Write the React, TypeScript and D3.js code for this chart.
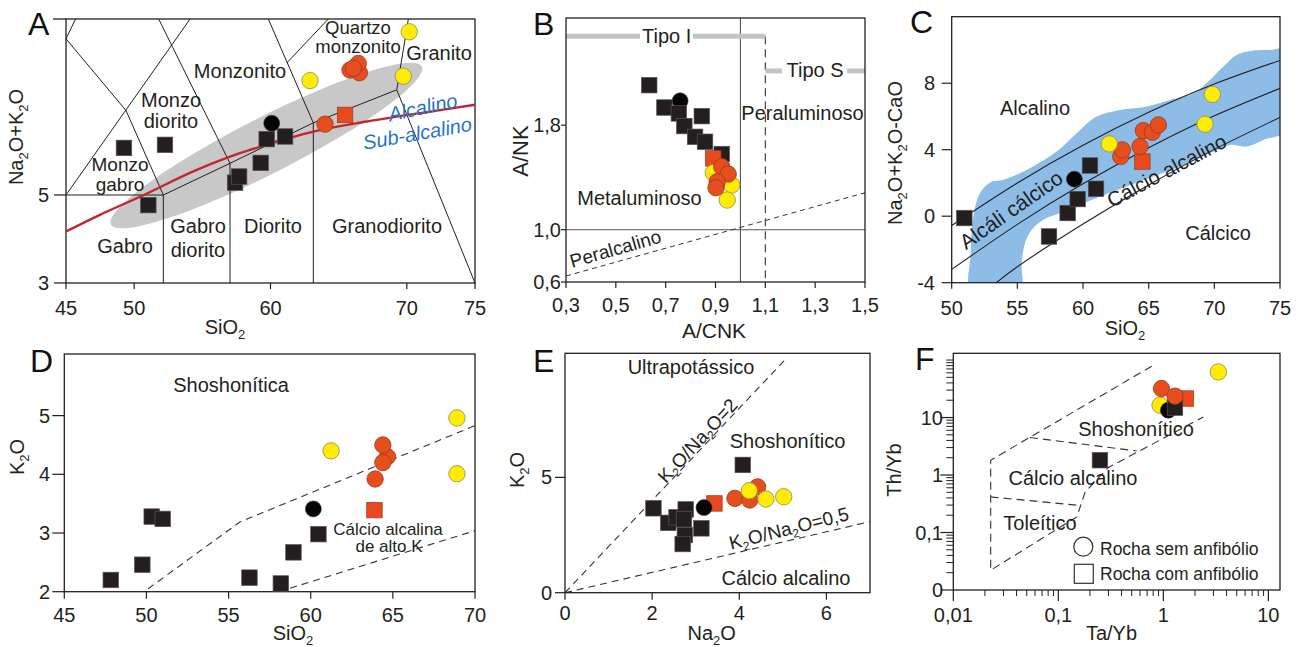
import React from 'react';
import * as d3 from 'd3';

const FONT = '"Liberation Sans", Arial, Helvetica, sans-serif';
const INK = '#231f20';

type XY = [number, number];
type Pt = [number, number, string];

// ---------------- A: TAS (Middlemost) ----------------
const tasXTicks = [45, 50, 60, 70, 75];
const tasYTicks = [3, 5];
const tasPoints: Pt[] = [
  [49.25, 6.07, 'sq'], [52.26, 6.14, 'sq'], [51.04, 4.77, 'sq'], [57.4, 5.28, 'sq'], [57.7, 5.42, 'sq'],
  [59.28, 5.73, 'sq'], [59.72, 6.27, 'sq'], [61.07, 6.33, 'sq'],
  [60.09, 6.63, 'bc'], [65.47, 6.82, 'rsq'], [64.0, 6.61, 'rc'],
  [65.83, 7.84, 'rc'], [66.52, 7.78, 'rc'], [66.44, 7.99, 'rc'], [66.08, 7.88, 'rc'],
  [62.9, 7.6, 'yc'], [69.74, 7.7, 'yc'], [70.18, 8.71, 'yc'],
];
const tasBoundaries: XY[][] = [
  [[45.7, 9], [45, 8.55]],
  [[45, 8.55], [49.4, 6.92], [52.14, 5]],
  [[45, 5], [52.14, 5]],
  [[54.1, 9], [45, 5]],
  [[51.8, 9], [57.03, 5.72]],
  [[52.14, 5], [57.03, 5.72], [63.14, 6.64], [69.26, 7.39]],
  [[59.84, 9], [63.14, 6.64]],
  [[64.24, 9], [61.19, 8.0]],
  [[70.11, 9], [69.26, 7.39], [75, 3]],
  [[52.14, 5], [52.14, 3]],
  [[57.03, 5.72], [57.03, 3]],
  [[63.14, 6.64], [63.14, 3]],
];
const tasAlkalineLine: XY[] = [
  [45, 4.17], [47.49, 4.55], [50.43, 4.96], [54.59, 5.57], [57.76, 5.95], [59.72, 6.14],
  [63.14, 6.44], [67.06, 6.67], [72.43, 6.93], [75, 7.05],
];
const tasGrayFieldTips: XY[] = [[48.3, 4.33], [71.1, 7.92]];

// ---------------- B: Shand ----------------
const shandXTicks = [0.3, 0.5, 0.7, 0.9, 1.1, 1.3, 1.5];
const shandYTicks = [0.6, 1.0, 1.8];
const shandPoints: Pt[] = [
  [0.634, 2.106, 'sq'], [0.695, 1.935, 'sq'], [0.758, 1.986, 'bc'], [0.753, 1.89, 'sq'], [0.845, 1.869, 'sq'],
  [0.775, 1.793, 'sq'], [0.818, 1.711, 'sq'], [0.858, 1.673, 'sq'], [0.925, 1.579, 'sq'],
  [0.891, 1.546, 'rsq'], [0.891, 1.436, 'yc'], [0.965, 1.342, 'yc'],
  [0.925, 1.482, 'rc'], [0.951, 1.426, 'rc'], [0.907, 1.367, 'rc'], [0.902, 1.321, 'rc'],
  [0.947, 1.227, 'yc'],
];
const shandPeralkalineLine: XY[] = [[0.3, 0.646], [1.5, 1.283]];
const shandTypeI: XY[] = [[0.3, 2.48], [1.1, 2.48]];
const shandTypeS: XY[] = [[1.1, 2.215], [1.5, 2.215]];

// ---------------- C: MALI ----------------
const maliXTicks = [50, 55, 60, 65, 70, 75];
const maliYTicks = [-4, 0, 4, 8];
const maliPoints: Pt[] = [
  [50.96, -0.11, 'sq'], [58.83, 0.19, 'sq'], [59.59, 1.03, 'sq'], [60.53, 3.05, 'sq'], [60.99, 1.65, 'sq'],
  [57.41, -1.22, 'sq'], [59.34, 2.23, 'bc'], [64.52, 3.29, 'rsq'],
  [62.87, 3.59, 'rc'], [62.99, 3.99, 'rc'], [64.34, 4.19, 'rc'], [64.59, 5.15, 'rc'], [65.28, 5.05, 'rc'], [65.74, 5.49, 'rc'],
  [62.0, 4.35, 'yc'], [69.29, 5.53, 'yc'], [69.85, 7.33, 'yc'],
];
const maliAlkalic: XY[] = [[50, -0.56], [55, 2.0], [60, 4.27], [65, 6.25], [70, 7.95], [75, 9.37]];
const maliAlkaliCalcic: XY[] = [[50, -3.2], [55, -0.49], [60, 1.95], [65, 4.12], [70, 6.04], [75, 7.69]];
const maliCalcAlkalic: XY[] = [[52.5, -4.6], [55, -3.04], [60, -0.47], [65, 1.88], [70, 4.02], [75, 5.94]];
const maliField: XY[] = [
  [51.5, -4.6], [51.45, -2.22], [51.65, -0.01], [52.16, 1.39], [52.92, 2.03], [53.93, 2.19], [55.96, 2.89],
  [57.99, 3.89], [59.52, 4.99], [61.04, 5.99], [62.82, 6.39], [64.59, 6.55], [66.62, 6.99], [68.4, 7.39],
  [69.67, 8.2], [70.69, 9.0], [71.7, 9.7], [72.97, 9.96], [74.24, 10.0], [75.6, 10.0], [75.6, 5.2],
  [73.73, 4.59], [72.46, 4.19], [71.19, 4.29], [69.67, 3.79], [67.39, 2.99], [65.36, 2.39], [63.32, 1.79],
  [61.29, 1.19], [58.25, 0.19], [56.98, -0.21], [56.09, -0.82], [55.58, -1.62], [55.33, -2.82], [55.2, -4.6],
];

// ---------------- D: K2O vs SiO2 ----------------
const k2oXTicks = [45, 50, 55, 60, 65, 70];
const k2oYTicks = [2, 3, 4, 5];
const k2oPoints: Pt[] = [
  [47.83, 2.2, 'sq'], [49.75, 2.46, 'sq'], [50.32, 3.28, 'sq'], [50.99, 3.24, 'sq'], [56.27, 2.24, 'sq'],
  [58.18, 2.14, 'sq'], [58.95, 2.67, 'sq'], [60.47, 2.98, 'sq'], [63.88, 3.39, 'rsq'], [60.16, 3.41, 'bc'],
  [64.67, 4.3, 'rc'], [64.39, 4.5, 'rc'], [64.39, 4.2, 'rc'], [63.92, 3.92, 'rc'],
  [61.24, 4.4, 'yc'], [68.9, 4.96, 'yc'], [68.9, 4.01, 'yc'],
];
const k2oShoshoniticLine: XY[] = [[50.1, 2.05], [55.7, 3.19], [70, 4.83]];
const k2oHighKLine: XY[] = [[58.75, 2.06], [70, 3.04]];

// ---------------- E: K2O vs Na2O ----------------
const naXTicks = [0, 2, 4, 6];
const naYTicks = [0, 5];
const naPoints: Pt[] = [
  [2.03, 3.66, 'sq'], [2.37, 3.03, 'sq'], [2.56, 3.27, 'sq'], [2.77, 3.61, 'sq'], [2.73, 3.18, 'sq'],
  [2.75, 2.5, 'sq'], [2.7, 2.11, 'sq'], [3.13, 2.79, 'sq'], [4.08, 5.54, 'sq'],
  [3.43, 3.87, 'rsq'], [3.19, 3.69, 'bc'],
  [3.9, 4.09, 'rc'], [4.42, 4.59, 'rc'], [4.24, 4.02, 'rc'],
  [4.23, 4.42, 'yc'], [4.61, 4.06, 'yc'], [5.02, 4.16, 'yc'],
];
const naRatio2: XY[] = [[0, 0], [5.05, 10.1]];
const naRatio05: XY[] = [[0, 0], [7, 3.08]];

// ---------------- F: Th/Yb vs Ta/Yb ----------------
const taXTicks = [0.01, 0.1, 1, 10];
const thYTicks = [0.01, 0.1, 1, 10];
const taPoints: Pt[] = [
  [1.64, 21.4, 'rsq'], [0.93, 16.4, 'yc'], [1.116, 13.4, 'bc'], [1.29, 14.9, 'sq'],
  [0.96, 31.9, 'rc'], [1.29, 23.5, 'rc'], [0.249, 1.81, 'sq'], [3.34, 62.1, 'yc'],
];
const taOuter: XY[] = [[0.775, 78], [0.0227, 1.81], [0.0227, 0.0221], [0.15, 0.187], [0.18, 0.508], [0.299, 1.35], [2.4, 10.2]];
const taThCa: XY[] = [[0.0227, 0.416], [0.161, 0.295]];
const taCaSho: XY[] = [[0.0537, 4.49], [0.558, 2.62]];

// ---------------- helpers ----------------
function Marker({ cx, cy, t }: { cx: number; cy: number; t: string }) {
  const s = 15.5;
  if (t === 'sq') return <rect x={cx - s / 2} y={cy - s / 2} width={s} height={s} fill="#231f20" stroke="#5c4f4f" strokeWidth={0.7} />;
  if (t === 'rsq') return <rect x={cx - s / 2} y={cy - s / 2} width={s} height={s} fill="#e8491e" stroke="#9a3b1c" strokeWidth={0.7} />;
  if (t === 'bc') return <circle cx={cx} cy={cy} r={8} fill="#050505" stroke="#3a3a3a" strokeWidth={0.6} />;
  if (t === 'rc') return <circle cx={cx} cy={cy} r={8.2} fill="#e64d1f" stroke="#9a3b1c" strokeWidth={0.8} />;
  return <circle cx={cx} cy={cy} r={8.2} fill="#ffec00" stroke="#8d8a5c" strokeWidth={0.8} />;
}

function chem(segs: [string, boolean][], sub = 13, shift = 5) {
  let prev = false;
  return segs.map(([s, isSub], i) => {
    let dy = 0;
    if (isSub && !prev) dy = shift;
    if (!isSub && prev) dy = -shift;
    prev = isSub;
    return (
      <tspan key={i} dy={dy} fontSize={isSub ? sub : undefined}>
        {s}
      </tspan>
    );
  });
}

function Axes(props: {
  x: any; y: any; xTicks: number[]; yTicks: number[];
  xFmt: (v: number) => string; yFmt: (v: number) => string;
  xLen: number; yLen: number; xLabelY: number; yLabelX: number;
}) {
  const { x, y, xTicks, yTicks, xFmt, yFmt, xLen, yLen, xLabelY, yLabelX } = props;
  const [x0, x1] = x.range();
  const [y0, y1] = y.range();
  return (
    <g>
      <rect x={x0} y={y1} width={x1 - x0} height={y0 - y1} fill="none" stroke={INK} strokeWidth={1.3} />
      {xTicks.map((v) => (
        <g key={'x' + v}>
          <line x1={x(v)} x2={x(v)} y1={y0} y2={y0 + xLen} stroke={INK} strokeWidth={1.2} />
          <text x={x(v)} y={xLabelY} textAnchor="middle" fontSize={20} fill={INK}>{xFmt(v)}</text>
        </g>
      ))}
      {yTicks.map((v) => (
        <g key={'y' + v}>
          <line x1={x0 - yLen} x2={x0} y1={y(v)} y2={y(v)} stroke={INK} strokeWidth={1.2} />
          <text x={yLabelX} y={y(v) + 7} textAnchor="end" fontSize={20} fill={INK}>{yFmt(v)}</text>
        </g>
      ))}
    </g>
  );
}

const comma = (v: number) => String(v).replace('.', ',');

function T(props: any) {
  const { children, ...rest } = props;
  return (
    <text fontSize={20} fill={INK} textAnchor="middle" {...rest}>
      {children}
    </text>
  );
}

function Letter({ x, y, c }: { x: number; y: number; c: string }) {
  return <text x={x} y={y} fontSize={32} fill="#111">{c}</text>;
}

// ---------------- panels ----------------
function PanelA() {
  const x = d3.scaleLinear().domain([45, 75]).range([66, 475]);
  const y = d3.scaleLinear().domain([3, 9]).range([283, 19]);
  const line = d3.line<XY>().x((d) => x(d[0])).y((d) => y(d[1]));
  const smooth = d3.line<XY>().x((d) => x(d[0])).y((d) => y(d[1])).curve(d3.curveMonotoneX);
  const [t1, t2] = tasGrayFieldTips;
  const p1 = [x(t1[0]), y(t1[1])];
  const p2 = [x(t2[0]), y(t2[1])];
  const cx = (p1[0] + p2[0]) / 2;
  const cy = (p1[1] + p2[1]) / 2;
  const rx = Math.hypot(p2[0] - p1[0], p2[1] - p1[1]) / 2;
  const ang = (Math.atan2(p2[1] - p1[1], p2[0] - p1[0]) * 180) / Math.PI;
  return (
    <g>
      <ellipse cx={cx} cy={cy} rx={rx} ry={28} fill="#c8c8c8" transform={`rotate(${ang} ${cx} ${cy})`} />
      {tasBoundaries.map((b, i) => (
        <path key={i} d={line(b) || ''} fill="none" stroke={INK} strokeWidth={1} />
      ))}
      <line x1={x(45) - 13} x2={x(45)} y1={y(9)} y2={y(9)} stroke={INK} strokeWidth={1.3} />
      <Axes x={x} y={y} xTicks={tasXTicks} yTicks={tasYTicks} xFmt={String} yFmt={String} xLen={6} yLen={12} xLabelY={315} yLabelX={49} />
      <path d={smooth(tasAlkalineLine) || ''} fill="none" stroke="#c1272d" strokeWidth={2.4} />
      <T x={358} y={34} fontSize={18.5}>Quartzo</T>
      <T x={358} y={53} fontSize={18.5}>monzonito</T>
      <T x={439} y={60}>Granito</T>
      <T x={240} y={78}>Monzonito</T>
      <T x={171} y={107}>Monzo</T>
      <T x={171} y={128}>diorito</T>
      <T x={120} y={171} fontSize={19}>Monzo</T>
      <T x={120} y={191} fontSize={19}>gabro</T>
      <T x={125} y={253}>Gabro</T>
      <T x={198} y={233}>Gabro</T>
      <T x={198} y={257}>diorito</T>
      <T x={273} y={233}>Diorito</T>
      <T x={387} y={233}>Granodiorito</T>
      <g transform="translate(422.7,107.3) rotate(-12)">
        <T x={0} y={7} fill="#1f74c6" fontStyle="italic">Alcalino</T>
      </g>
      <g transform="translate(417.3,133.3) rotate(-10)">
        <T x={0} y={7} fill="#1f74c6" fontStyle="italic">Sub-alcalino</T>
      </g>
      {tasPoints.map((p, i) => (
        <Marker key={i} cx={x(p[0])} cy={y(p[1])} t={p[2]} />
      ))}
      <g transform="translate(23,137) rotate(-90)">
        <T x={0} y={0}>{chem([['Na', false], ['2', true], ['O+K', false], ['2', true], ['O', false]])}</T>
      </g>
      <T x={225} y={334}>{chem([['SiO', false], ['2', true]])}</T>
      <Letter x={28} y={35} c="A" />
    </g>
  );
}

function PanelB() {
  const x = d3.scaleLinear().domain([0.3, 1.5]).range([566, 865]);
  const y = d3.scaleLinear().domain([0.6, 2.62]).range([282, 18]);
  const line = d3.line<XY>().x((d) => x(d[0])).y((d) => y(d[1]));
  const barI = y(shandTypeI[0][1]);
  const barS = y(shandTypeS[0][1]);
  return (
    <g>
      <line x1={x(1.0)} x2={x(1.0)} y1={y(0.6)} y2={y(2.62)} stroke="#555" strokeWidth={1.1} />
      <line x1={x(0.3)} x2={x(1.5)} y1={y(1.0)} y2={y(1.0)} stroke="#555" strokeWidth={1.1} />
      <line x1={x(1.1)} x2={x(1.1)} y1={barI} y2={y(0.6)} stroke="#333" strokeWidth={1.1} strokeDasharray="8,5" />
      <path d={line(shandPeralkalineLine) || ''} stroke="#333" strokeWidth={1} strokeDasharray="5,4" fill="none" />
      <line x1={x(shandTypeI[0][0])} x2={640} y1={barI} y2={barI} stroke="#c4c4c4" strokeWidth={5} />
      <line x1={693} x2={x(shandTypeI[1][0])} y1={barI} y2={barI} stroke="#c4c4c4" strokeWidth={5} />
      <line x1={x(shandTypeS[0][0])} x2={782} y1={barS} y2={barS} stroke="#c4c4c4" strokeWidth={5} />
      <line x1={847} x2={x(shandTypeS[1][0])} y1={barS} y2={barS} stroke="#c4c4c4" strokeWidth={5} />
      <T x={666.7} y={43}>Tipo I</T>
      <T x={815} y={77}>Tipo S</T>
      <T x={802.5} y={120}>Peraluminoso</T>
      <T x={639.5} y={205}>Metaluminoso</T>
      <g transform="translate(572,268) rotate(-16)">
        <T x={0} y={0} textAnchor="start" fontSize={19}>Peralcalino</T>
      </g>
      <Axes x={x} y={y} xTicks={shandXTicks} yTicks={shandYTicks}
        xFmt={(v) => d3.format('.1f')(v).replace('.', ',')} yFmt={(v) => d3.format('.1f')(v).replace('.', ',')}
        xLen={6} yLen={5} xLabelY={312} yLabelX={561} />
      {shandPoints.map((p, i) => (
        <Marker key={i} cx={x(p[0])} cy={y(p[1])} t={p[2]} />
      ))}
      <g transform="translate(528,151) rotate(-90)">
        <T x={0} y={0} fontSize={22}>A/NK</T>
      </g>
      <T x={714} y={338} fontSize={21}>A/CNK</T>
      <Letter x={533} y={35} c="B" />
    </g>
  );
}

function PanelC() {
  const x = d3.scaleLinear().domain([50, 75]).range([951.7, 1280]);
  const y = d3.scaleLinear().domain([-4, 12]).range([282.7, 16.7]);
  const curve = d3.line<XY>().x((d) => x(d[0])).y((d) => y(d[1])).curve(d3.curveNatural);
  const field = d3.line<XY>().x((d) => x(d[0])).y((d) => y(d[1])).curve(d3.curveCatmullRomClosed.alpha(0.5));
  return (
    <g>
      <defs>
        <clipPath id="clipC">
          <rect x={951.7} y={16.7} width={1280 - 951.7} height={282.7 - 16.7} />
        </clipPath>
      </defs>
      <g clipPath="url(#clipC)">
        <path d={field(maliField) || ''} fill="#8dbde7" />
        {[maliAlkalic, maliAlkaliCalcic, maliCalcAlkalic].map((c, i) => (
          <path key={i} d={curve(c) || ''} fill="none" stroke={INK} strokeWidth={1.1} />
        ))}
      </g>
      <Axes x={x} y={y} xTicks={maliXTicks} yTicks={maliYTicks} xFmt={String} yFmt={String}
        xLen={6} yLen={10} xLabelY={315} yLabelX={935} />
      <T x={1035} y={115}>Alcalino</T>
      <T x={1218} y={240}>Cálcico</T>
      <g transform="translate(1011.3,210) rotate(-35)">
        <T x={0} y={7} fontSize={21}>Alcáli  cálcico</T>
      </g>
      <g transform="translate(1166.7,170.7) rotate(-28)">
        <T x={0} y={7} fontSize={20.5}>Cálcio alcalino</T>
      </g>
      {maliPoints.map((p, i) => (
        <Marker key={i} cx={x(p[0])} cy={y(p[1])} t={p[2]} />
      ))}
      <g transform="translate(902,153) rotate(-90)">
        <T x={0} y={0}>{chem([['Na', false], ['2', true], ['O+K', false], ['2', true], ['O-CaO', false]])}</T>
      </g>
      <T x={1125} y={335}>{chem([['SiO', false], ['2', true]])}</T>
      <Letter x={910} y={33} c="C" />
    </g>
  );
}

function PanelD() {
  const x = d3.scaleLinear().domain([45, 70]).range([64.3, 475]);
  const y = d3.scaleLinear().domain([2, 6.05]).range([591.7, 354]);
  const line = d3.line<XY>().x((d) => x(d[0])).y((d) => y(d[1]));
  return (
    <g>
      <path d={line(k2oShoshoniticLine) || ''} fill="none" stroke="#333" strokeWidth={1.1} strokeDasharray="7,5" />
      <path d={line(k2oHighKLine) || ''} fill="none" stroke="#333" strokeWidth={1.1} strokeDasharray="7,5" />
      <Axes x={x} y={y} xTicks={k2oXTicks} yTicks={k2oYTicks} xFmt={String} yFmt={String}
        xLen={7} yLen={12} xLabelY={621.5} yLabelX={50} />
      <T x={231} y={392}>Shoshonítica</T>
      {k2oPoints.map((p, i) => (
        <Marker key={i} cx={x(p[0])} cy={y(p[1])} t={p[2]} />
      ))}
      <T x={388} y={535} fontSize={17}>Cálcio alcalina</T>
      <T x={389} y={552} fontSize={17}>de alto K</T>
      <g transform="translate(24,457) rotate(-90)">
        <T x={0} y={0}>{chem([['K', false], ['2', true], ['O', false]])}</T>
      </g>
      <T x={293} y={640}>{chem([['SiO', false], ['2', true]])}</T>
      <Letter x={30} y={372} c="D" />
    </g>
  );
}

function PanelE() {
  const x = d3.scaleLinear().domain([0, 7]).range([565, 870]);
  const y = d3.scaleLinear().domain([0, 10.38]).range([592.7, 353.3]);
  const line = d3.line<XY>().x((d) => x(d[0])).y((d) => y(d[1]));
  return (
    <g>
      <path d={line(naRatio2) || ''} fill="none" stroke="#333" strokeWidth={1.1} strokeDasharray="7,5" />
      <path d={line(naRatio05) || ''} fill="none" stroke="#333" strokeWidth={1.1} strokeDasharray="7,5" />
      <Axes x={x} y={y} xTicks={naXTicks} yTicks={naYTicks} xFmt={String} yFmt={String}
        xLen={7} yLen={10} xLabelY={620} yLabelX={552} />
      <T x={691} y={374}>Ultrapotássico</T>
      <T x={787.5} y={448}>Shoshonítico</T>
      <T x={786} y={585}>Cálcio alcalino</T>
      <g transform="translate(698,441) rotate(-47)">
        <T x={0} y={6} fontSize={19}>{chem([['K', false], ['2', true], ['O/Na', false], ['2', true], ['O=2', false]], 12, 4)}</T>
      </g>
      <g transform="translate(789,529) rotate(-14.2)">
        <T x={0} y={6} fontSize={19}>{chem([['K', false], ['2', true], ['O/Na', false], ['2', true], ['O=0,5', false]], 12, 4)}</T>
      </g>
      {naPoints.map((p, i) => (
        <Marker key={i} cx={x(p[0])} cy={y(p[1])} t={p[2]} />
      ))}
      <g transform="translate(524,470) rotate(-90)">
        <T x={0} y={0}>{chem([['K', false], ['2', true], ['O', false]])}</T>
      </g>
      <T x={711.7} y={640}>{chem([['Na', false], ['2', true], ['O', false]])}</T>
      <Letter x={533} y={372} c="E" />
    </g>
  );
}

function PanelF() {
  const x = d3.scaleLog().domain([0.01, 12.9]).range([953.3, 1280]);
  const y = d3.scaleLog().domain([0.01, 131]).range([590, 353.3]);
  const line = d3.line<XY>().x((d) => x(d[0])).y((d) => y(d[1]));
  const minorX: number[] = [];
  [0.01, 0.1, 1, 10].forEach((d) => {
    for (let k = 2; k <= 9; k++) if (d * k <= 12.9) minorX.push(d * k);
  });
  const minorY: number[] = [];
  [0.01, 0.1, 1, 10, 100].forEach((d) => {
    for (let k = 2; k <= 9; k++) if (d * k <= 131) minorY.push(d * k);
  });
  minorY.push(100);
  const x0 = 953.3, y0 = 590, x1 = 1280, y1 = 353.3;
  return (
    <g>
      <rect x={x0} y={y1} width={x1 - x0} height={y0 - y1} fill="none" stroke={INK} strokeWidth={1.3} />
      {minorX.map((v, i) => (
        <line key={'mx' + i} x1={x(v)} x2={x(v)} y1={y0} y2={y0 + 6} stroke={INK} strokeWidth={1} />
      ))}
      {minorY.map((v, i) => (
        <line key={'my' + i} x1={x0 - 7} x2={x0} y1={y(v)} y2={y(v)} stroke={INK} strokeWidth={1} />
      ))}
      {taXTicks.map((v) => (
        <g key={'X' + v}>
          <line x1={x(v)} x2={x(v)} y1={y0} y2={y0 + 11} stroke={INK} strokeWidth={1.2} />
          <T x={x(v)} y={621.7}>{comma(v)}</T>
        </g>
      ))}
      {thYTicks.map((v) => (
        <g key={'Y' + v}>
          <line x1={x0 - 13} x2={x0} y1={y(v)} y2={y(v)} stroke={INK} strokeWidth={1.2} />
          <T x={943} y={y(v) + 7} textAnchor="end">{v === 0.01 ? '0' : comma(v)}</T>
        </g>
      ))}
      {[taOuter, taThCa, taCaSho].map((b, i) => (
        <path key={i} d={line(b) || ''} fill="none" stroke="#333" strokeWidth={1.1} strokeDasharray="8,5" />
      ))}
      <T x={1136} y={436}>Shoshonítico</T>
      <T x={1073} y={485}>Cálcio alcalino</T>
      <T x={1040} y={530}>Toleítico</T>
      {taPoints.map((p, i) => (
        <Marker key={i} cx={x(p[0])} cy={y(p[1])} t={p[2]} />
      ))}
      <circle cx={1083.3} cy={546.7} r={9.5} fill="#fff" stroke="#333" strokeWidth={1.2} />
      <rect x={1074.3} y={564.3} width={19} height={19} fill="#fff" stroke="#333" strokeWidth={1.2} />
      <T x={1100} y={555} textAnchor="start" fontSize={17.5}>Rocha sem anfibólio</T>
      <T x={1100} y={580} textAnchor="start" fontSize={17.5}>Rocha com anfibólio</T>
      <g transform="translate(901,470) rotate(-90)">
        <T x={0} y={0}>Th/Yb</T>
      </g>
      <T x={1111.5} y={640}>Ta/Yb</T>
      <Letter x={915} y={370} c="F" />
    </g>
  );
}

export default function App() {
  return (
    <svg
      width={1304}
      height={647}
      viewBox="0 0 1304 647"
      fontFamily={FONT}
      style={{ position: 'absolute', left: 0, top: 0, display: 'block', background: '#fff' }}
    >
      <rect width={1304} height={647} fill="#fff" />
      <PanelA />
      <PanelB />
      <PanelC />
      <PanelD />
      <PanelE />
      <PanelF />
    </svg>
  );
}
